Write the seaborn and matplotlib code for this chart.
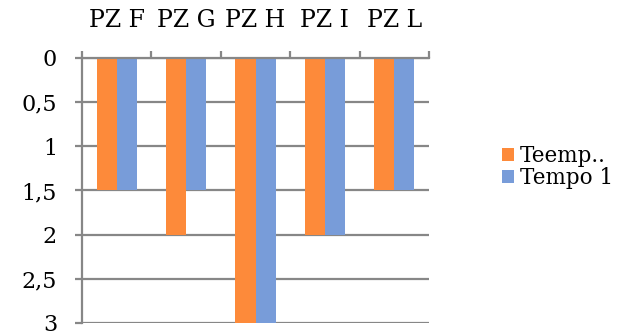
import matplotlib
matplotlib.use("Agg")
import matplotlib.pyplot as plt
import seaborn as sns
import pandas as pd
from matplotlib.ticker import FixedLocator, FuncFormatter
from matplotlib.patches import Patch

categories = ["PZ F", "PZ G", "PZ H", "PZ I", "PZ L"]
series_names = ["Teemp..", "Tempo 1"]
teemp_values = [1.5, 2.0, 3.0, 2.0, 1.5]
tempo1_values = [1.5, 1.5, 3.0, 2.0, 1.5]
y_ticks = [0, 0.5, 1, 1.5, 2, 2.5, 3]

colors = ["#FD8A3A", "#789CD9"]
grid_gray = "#878787"

df = pd.DataFrame({
    "cat": categories * 2,
    "serie": [series_names[0]] * len(categories) + [series_names[1]] * len(categories),
    "val": teemp_values + tempo1_values,
})

sns.set_theme(style="white")
plt.rcParams["font.family"] = ["DejaVu Serif"]

fig = plt.figure(figsize=(6.27, 3.31), dpi=100)
ax = fig.add_axes([0.1308, 0.0242, 0.5534, 0.8006])

sns.barplot(data=df, x="cat", y="val", hue="serie", order=categories,
            hue_order=series_names, palette=colors, width=0.58,
            saturation=1, errorbar=None, legend=False, ax=ax, zorder=3,
            linewidth=0)

ax.set_ylim(3, 0)
ax.set_xlim(-0.5, len(categories) - 0.5)
ax.set_xlabel("")
ax.set_ylabel("")

ax.yaxis.set_major_locator(FixedLocator(y_ticks))
ax.yaxis.set_major_formatter(FuncFormatter(lambda v, p: f"{v:g}".replace(".", ",")))
ax.yaxis.grid(True, color=grid_gray, linewidth=1.6, zorder=0)

ax.xaxis.tick_top()
ax.set_xticks(range(len(categories)))
ax.set_xticklabels(categories)
ax.set_xticks([i - 0.5 for i in range(len(categories) + 1)], minor=True)
ax.tick_params(axis="x", which="major", length=0, pad=19, labelsize=17, colors="black")
ax.tick_params(axis="x", which="minor", length=5, width=1.6, color=grid_gray, direction="out", top=True, bottom=False)
ax.tick_params(axis="y", which="major", length=5, width=1.6, color=grid_gray, direction="out", left=True, pad=13, labelsize=16, labelcolor="black")

for side in ["right", "bottom"]:
    ax.spines[side].set_visible(False)
for side in ["left", "top"]:
    ax.spines[side].set_color(grid_gray)
    ax.spines[side].set_linewidth(1.6)
    ax.spines[side].set_zorder(4)

handles = [Patch(facecolor=c, edgecolor="none") for c in colors]
fig.legend(handles, series_names, loc="center left", bbox_to_anchor=(0.784, 0.494),
           frameon=False, fontsize=15.5, handlelength=0.55, handleheight=0.55,
           handletextpad=0.25, labelspacing=0.0, borderpad=0, labelcolor="black")

fig.savefig("out.png", dpi=100)
